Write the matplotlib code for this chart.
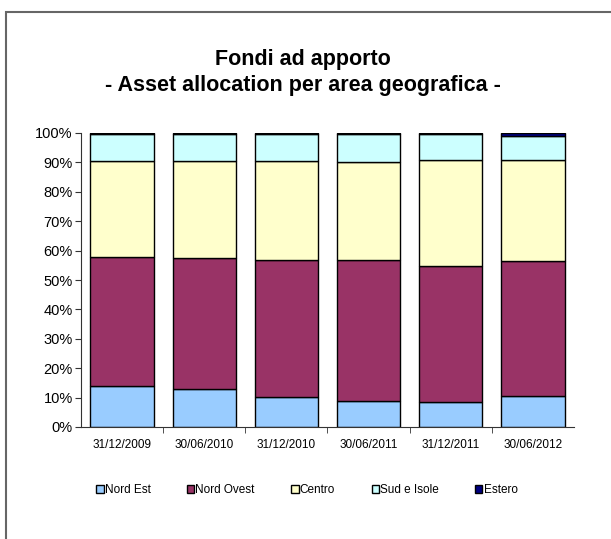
import matplotlib.pyplot as plt
import numpy as np
from matplotlib.patches import Rectangle

plt.rcParams['font.family'] = ['Liberation Sans', 'DejaVu Sans']

dates = ["31/12/2009", "30/06/2010", "31/12/2010", "30/06/2011", "31/12/2011", "30/06/2012"]
series = ["Nord Est", "Nord Ovest", "Centro", "Sud e Isole", "Estero"]
nord_est = [13.8, 13.0, 10.2, 8.8, 8.4, 10.4]
nord_ovest = [44.0, 44.5, 46.7, 48.1, 46.3, 45.9]
centro = [32.6, 32.9, 33.5, 33.1, 36.1, 34.5]
sud_isole = [9.2, 9.2, 9.2, 9.6, 8.8, 8.1]
estero = [0.4, 0.4, 0.4, 0.4, 0.4, 1.1]
colors = ["#99ccff", "#993366", "#ffffcc", "#ccffff", "#000080"]

W, H = 611, 539
fig = plt.figure(figsize=(W / 100, H / 100), dpi=100)
# outer chart border (left and top visible)
fig.patches.append(Rectangle((6 / W, -0.1), 1.2, (H - 12) / H + 0.1, transform=fig.transFigure,
                             fill=False, edgecolor="#666666", linewidth=1.5))

ax = fig.add_axes([81 / W, 1 - 427 / H, (574 - 81) / W, (427 - 133) / H])
x = np.arange(len(dates))
bottom = np.zeros(len(dates))
for name, vals, c in zip(series, [nord_est, nord_ovest, centro, sud_isole, estero], colors):
    ax.bar(x, vals, 0.77, bottom=bottom, color=c, edgecolor="black", linewidth=1.0, label=name)
    bottom += np.array(vals)

ax.set_xlim(-0.5, len(dates) - 0.5)
ax.set_ylim(0, 100)
ax.set_yticks(np.arange(0, 101, 10))
ax.set_yticklabels([f"{v}%" for v in range(0, 101, 10)], fontsize=10.5)
ax.set_xticks(x)
ax.set_xticklabels(dates, fontsize=8.5)
ax.tick_params(axis='x', length=0, pad=9)
ax.set_xticks(np.arange(0.5, len(dates) - 0.5, 1), minor=True)
ax.tick_params(axis='x', which='minor', length=4, direction='out', color="#333333")
ax.tick_params(axis='y', length=4, direction='out', color="#333333", pad=2)
for s in ['top', 'right']:
    ax.spines[s].set_visible(False)
for s in ['left', 'bottom']:
    ax.spines[s].set_color("#333333")

fig.text(303 / W, 1 - 59 / H, "Fondi ad apporto", ha='center', va='center', fontsize=15.5, fontweight='bold')
fig.text(303 / W, 1 - 86 / H, "- Asset allocation per area geografica -", ha='center', va='center',
         fontsize=15.5, fontweight='bold')

ax.legend(loc='center', bbox_to_anchor=(307 / W, 1 - 490 / H), bbox_transform=fig.transFigure, ncol=5,
          frameon=False, fontsize=8.5, handlelength=0.6, handleheight=0.6, handletextpad=0.1,
          columnspacing=3.1)

fig.savefig("out.png", dpi=100)
